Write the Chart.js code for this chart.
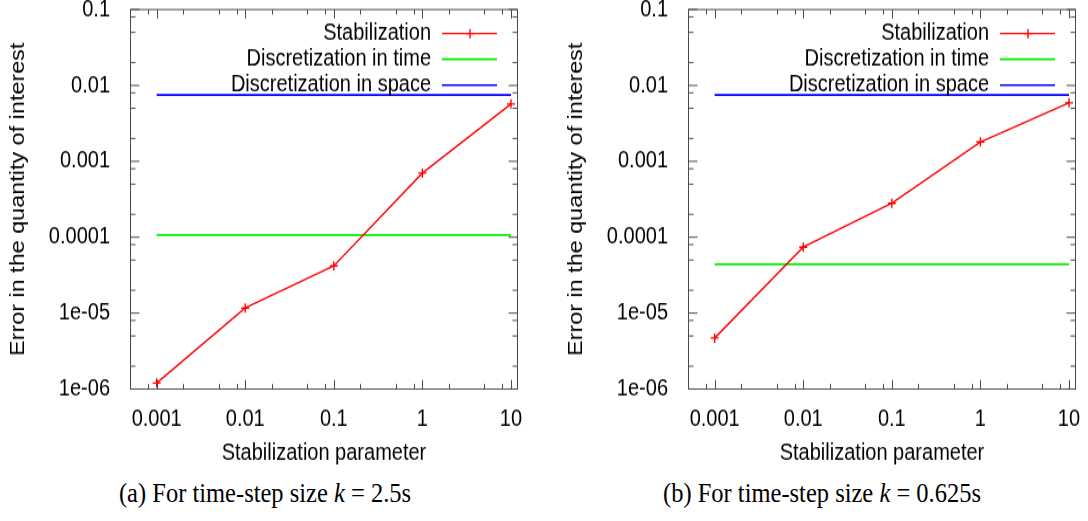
<!DOCTYPE html>
<html>
<head>
<meta charset="utf-8">
<title>Stabilization parameter study</title>
<script src="https://cdn.jsdelivr.net/npm/chart.js@4/dist/chart.umd.min.js"></script>
<style>
  html, body { margin: 0; padding: 0; background: #fff; }
  body { width: 1088px; height: 521px; position: relative; overflow: hidden; }
  /* plots are drawn a bit flatter and stretched back up, like the tall gnuplot lettering */
  .plot { position: absolute; top: 0; width: 530px; transform: scaleY(1.17); transform-origin: 0 0; }
  #plot-a { left: 0; }
  #plot-b { left: 558px; }
  .caption {
    position: absolute;
    top: 479px;
    font-family: 'Liberation Serif', 'Times New Roman', serif;
    font-size: 24.5px;
    line-height: 28px;
    white-space: nowrap;
    transform: translateX(-50%) scaleY(1.12);
  }
</style>
</head>
<body>
<div class="plot" id="plot-a"><canvas id="chart-a" width="530" height="402"></canvas></div>
<div class="plot" id="plot-b"><canvas id="chart-b" width="530" height="402"></canvas></div>
<div class="caption" style="left:265px">(a) For time-step size <i>k</i> = 2.5s</div>
<div class="caption" style="left:822px">(b) For time-step size <i>k</i> = 0.625s</div>

<script>
// stabilization parameters the error was evaluated at
const stabParams = [0.001, 0.01, 0.1, 1, 10];

// (a) k = 2.5s
const stabErrorA = [1.2e-6, 1.17e-5, 4.2e-5, 7.0e-4, 5.7e-3];
const timeErrorA = 1.07e-4;
const spaceErrorA = 7.5e-3;

// (b) k = 0.625s
const stabErrorB = [4.7e-6, 7.4e-5, 2.8e-4, 1.8e-3, 5.9e-3];
const timeErrorB = 4.4e-5;
const spaceErrorB = 7.5e-3;

const seriesLabels = ['Stabilization', 'Discretization in time', 'Discretization in space'];
const seriesColors = ['#ff0000', '#00ee00', '#0000ff'];

const xTickValues = [0.001, 0.01, 0.1, 1, 10];
const xTickLabels = ['0.001', '0.01', '0.1', '1', '10'];
const yTickValues = [1e-6, 1e-5, 1e-4, 1e-3, 1e-2, 1e-1];
const yTickLabels = ['1e-06', '1e-05', '0.0001', '0.001', '0.01', '0.1'];
const minorSteps = [2, 5, 8];

const X_MIN = 0.0005, X_MAX = 12;
const Y_MIN = 1e-6, Y_MAX = 0.1;

const STRETCH = 1.17; // matches the css scaleY on .plot
const sansFont = { family: "'Liberation Sans', Arial, sans-serif", size: 20 };
const frameColor = '#4a4a4a';

function minorTicks(lo, hi) {
  const out = [];
  for (let e = Math.floor(Math.log10(lo)); e <= Math.ceil(Math.log10(hi)); e++) {
    minorSteps.forEach(m => {
      const v = m * Math.pow(10, e);
      if (v > lo && v < hi) out.push(v);
    });
  }
  return out;
}

// box with inward ticks on all four sides, gnuplot style
const frameTicks = {
  id: 'frameTicks',
  beforeDatasetsDraw(chart) {
    const { ctx, chartArea: a, scales: { x, y } } = chart;
    const L = Math.round(a.left) + 0.5, R = Math.round(a.right) - 0.5;
    const T = a.top, B = a.bottom;
    ctx.save();
    ctx.strokeStyle = frameColor;
    ctx.lineWidth = 1;
    ctx.beginPath();
    const xt = (v, len) => {
      const px = Math.round(x.getPixelForValue(v)) + 0.5;
      const h = len / STRETCH;
      ctx.moveTo(px, B); ctx.lineTo(px, B - h);
      ctx.moveTo(px, T); ctx.lineTo(px, T + h);
    };
    const yt = (v, len) => {
      const py = y.getPixelForValue(v);
      ctx.moveTo(L, py); ctx.lineTo(L + len, py);
      ctx.moveTo(R, py); ctx.lineTo(R - len, py);
    };
    xTickValues.forEach(v => xt(v, 9));
    minorTicks(X_MIN, X_MAX).forEach(v => xt(v, 5));
    yTickValues.forEach(v => yt(v, 9));
    minorTicks(Y_MIN, Y_MAX).forEach(v => yt(v, 5));
    ctx.stroke();
    ctx.strokeRect(L, T, R - L, B - T);
    ctx.restore();
  }
};

// key in the top right corner: right-aligned text, sample line after it
const keyBox = {
  id: 'keyBox',
  afterDatasetsDraw(chart) {
    const { ctx, chartArea: a } = chart;
    ctx.save();
    ctx.font = `${sansFont.size}px ${sansFont.family}`;
    ctx.textAlign = 'right';
    ctx.textBaseline = 'middle';
    chart.data.datasets.forEach((ds, i) => {
      const rowY = a.top + (24 + i * 25.8) / STRETCH;
      ctx.fillStyle = '#000';
      ctx.fillText(ds.label, a.right - 87, rowY);
      ctx.strokeStyle = ds.borderColor;
      ctx.lineWidth = ds.borderWidth;
      ctx.beginPath();
      ctx.moveTo(a.right - 76, rowY);
      ctx.lineTo(a.right - 21, rowY);
      ctx.stroke();
      if (ds.pointRadius > 0) {
        Chart.helpers.drawPoint(ctx, {
          pointStyle: ds.pointStyle, radius: ds.pointRadius,
          rotation: 0, borderWidth: ds.pointBorderWidth
        }, a.right - 48, rowY);
      }
    });
    ctx.restore();
  }
};

function buildDatasets(stabError, timeError, spaceError) {
  return [
    {
      label: seriesLabels[0],
      data: stabParams.map((p, i) => ({ x: p, y: stabError[i] })),
      borderColor: seriesColors[0], backgroundColor: seriesColors[0],
      borderWidth: 1.4, pointStyle: 'cross', pointRadius: 4, pointBorderWidth: 1.4
    },
    {
      label: seriesLabels[1],
      data: stabParams.map(p => ({ x: p, y: timeError })),
      borderColor: seriesColors[1], borderWidth: 1.7, pointRadius: 0
    },
    {
      label: seriesLabels[2],
      data: stabParams.map(p => ({ x: p, y: spaceError })),
      borderColor: seriesColors[2], borderWidth: 1.7, pointRadius: 0
    }
  ];
}

function makeChart(id, stabError, timeError, spaceError) {
  const canvas = document.getElementById(id);
  if (!canvas) return;
  return new Chart(canvas.getContext('2d'), {
    type: 'line',
    data: { datasets: buildDatasets(stabError, timeError, spaceError) },
    options: {
      responsive: false,
      animation: false,
      layout: { padding: { top: 9.5 / STRETCH, right: 12, bottom: 0, left: 0 } },
      plugins: { legend: { display: false }, tooltip: { enabled: false } },
      scales: {
        x: {
          type: 'logarithmic',
          min: X_MIN, max: X_MAX,
          grid: { display: false },
          border: { display: false },
          ticks: {
            font: sansFont, color: '#000', padding: 6, maxRotation: 0, autoSkip: false,
            callback: v => xTickLabels[xTickValues.indexOf(v)] ?? ''
          },
          afterBuildTicks: s => { s.ticks = xTickValues.map(v => ({ value: v })); },
          afterFit: s => { s.height = 402 - 389 / STRETCH; s.paddingLeft = 0; s.paddingRight = 0; },
          title: { display: true, text: 'Stabilization parameter', font: sansFont, color: '#000', padding: { top: 0, bottom: 3 } }
        },
        y: {
          type: 'logarithmic',
          min: Y_MIN, max: Y_MAX,
          grid: { display: false },
          border: { display: false },
          ticks: {
            font: sansFont, color: '#000', padding: 12, autoSkip: false,
            callback: v => yTickLabels[yTickValues.indexOf(v)] ?? ''
          },
          afterBuildTicks: s => { s.ticks = yTickValues.map(v => ({ value: v })); },
          afterFit: s => { s.width = 130; s.paddingTop = 0; s.paddingBottom = 0; },
          title: { display: true, text: 'Error in the quantity of interest', font: sansFont, color: '#000', padding: { top: 6, bottom: 0 } }
        }
      }
    },
    plugins: [frameTicks, keyBox]
  });
}

makeChart('chart-a', stabErrorA, timeErrorA, spaceErrorA);
makeChart('chart-b', stabErrorB, timeErrorB, spaceErrorB);
</script>
</body>
</html>
